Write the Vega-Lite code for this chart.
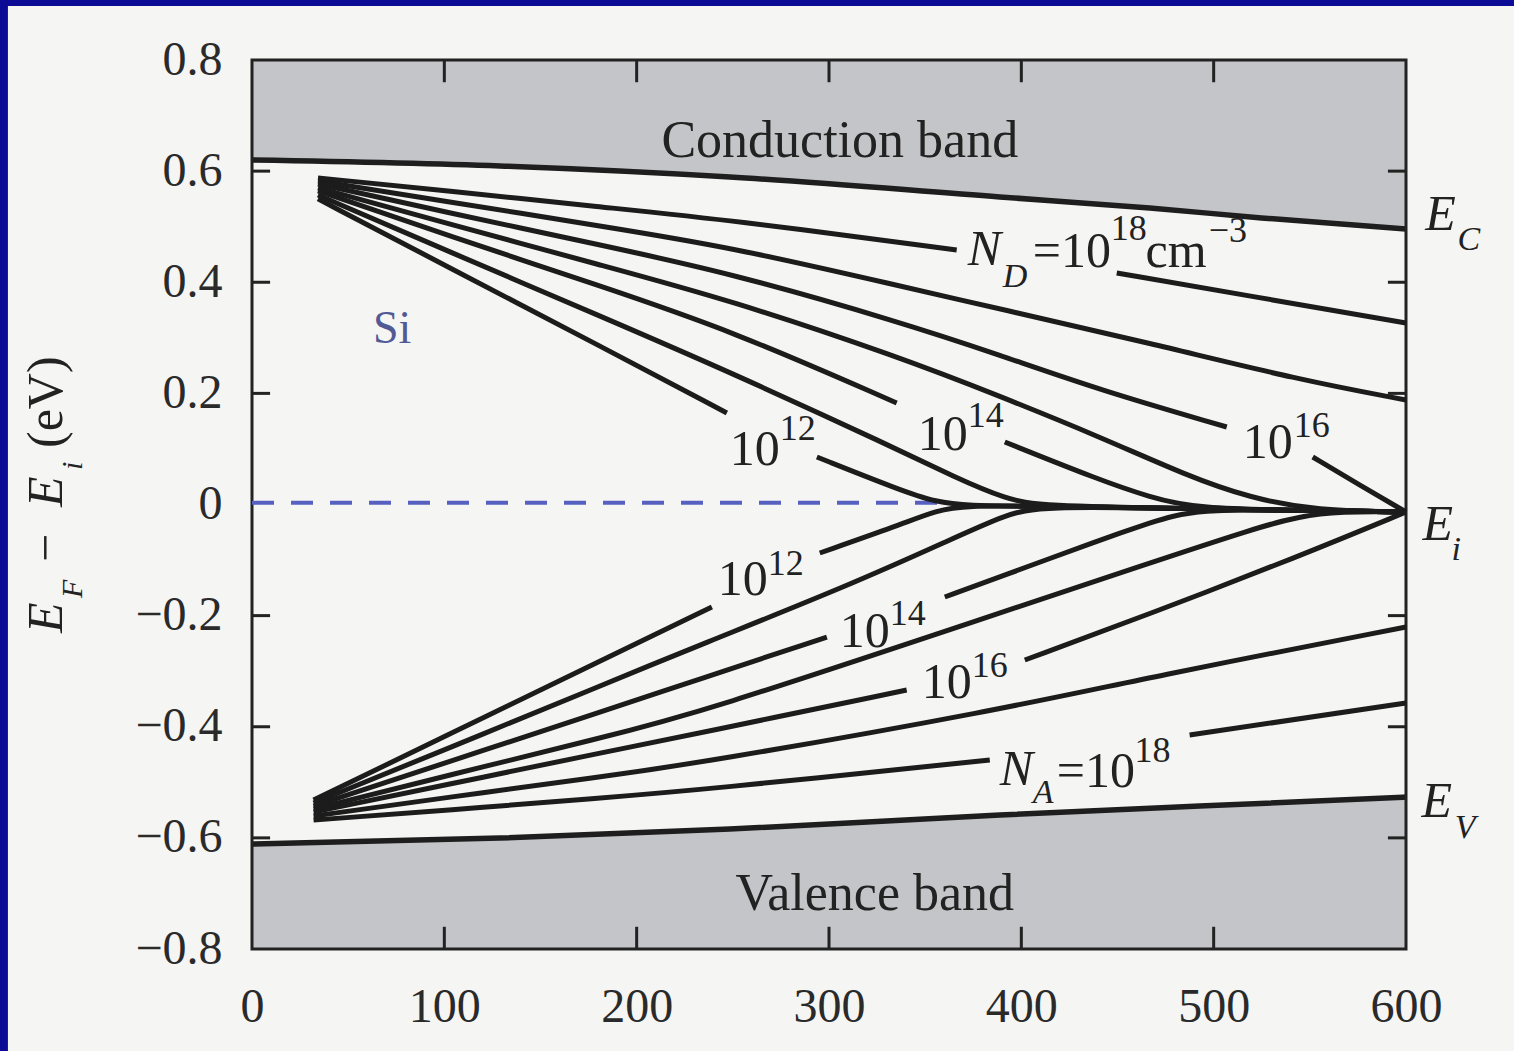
{
"$schema": "https://vega.github.io/schema/vega-lite/v6.json",
"width": 1154, "height": 889,
"autosize": {"type": "none"},
"padding": {"left": 252, "top": 60, "right": 108, "bottom": 102},
"background": "#f5f5f3",
"config": {"view": {"fill": "#f5f5f3", "stroke": null}, "font": "Liberation Serif", "text": {"font": "Liberation Serif", "color": "#222222"}},
"datasets": {
"border": [{"T":-140,"T2":-126.9,"v":1.0,"v2":-1.05},{"T":-140,"T2":700,"v":1.0,"v2":0.8972}],
"ec": [{"T":0,"v":0.6201},{"T":128.9,"v":0.6093},{"T":248.4,"v":0.5895},{"T":388.8,"v":0.5535},{"T":466.7,"v":0.5337},{"T":524.9,"v":0.5157},{"T":600,"v":0.4959}],
"ev": [{"T":0,"v":-0.6111},{"T":128.9,"v":-0.6003},{"T":248.4,"v":-0.5841},{"T":388.8,"v":-0.5589},{"T":492.7,"v":-0.5427},{"T":600,"v":-0.5265}],
"frame": [{"T":0,"T2":600,"v":-0.8,"v2":0.8}],
"yt": [{"v":0.6},{"v":0.4},{"v":0.2},{"v":-0.2},{"v":-0.4},{"v":-0.6}],
"xt": [{"T":100},{"T":200},{"T":300},{"T":400},{"T":500}],
"dash": [{"T":0,"v":0.003},{"T":360,"v":0.003}],
"curves": [
{"c":"n12a","T":34.3,"v":0.550},{"c":"n12a","T":102.9,"v":0.4257},{"c":"n12a","T":180.9,"v":0.2853},{"c":"n12a","T":246.9,"v":0.1647},
{"c":"n12b","T":293.7,"v":0.0855},{"c":"n12b","T":336.8,"v":0.0261},{"c":"n12b","T":356,"v":0.004},{"c":"n12b","T":372,"v":-0.002},{"c":"n12b","T":405.9,"v":-0.003},{"c":"n12b","T":486,"v":-0.0074},{"c":"n12b","T":553.5,"v":-0.011},{"c":"n12b","T":600,"v":-0.0135},
{"c":"n13","T":34.3,"v":0.5571},{"c":"n13","T":102.9,"v":0.4545},{"c":"n13","T":180.9,"v":0.3393},{"c":"n13","T":248.4,"v":0.2385},{"c":"n13","T":333.2,"v":0.1035},{"c":"n13","T":366,"v":0.048},{"c":"n13","T":392,"v":0.01},{"c":"n13","T":410,"v":-0.003},{"c":"n13","T":486,"v":-0.0074},{"c":"n13","T":553.5,"v":-0.011},{"c":"n13","T":600,"v":-0.0135},
{"c":"n14a","T":34.3,"v":0.5643},{"c":"n14a","T":102.9,"v":0.4833},{"c":"n14a","T":180.9,"v":0.3933},{"c":"n14a","T":248.4,"v":0.3141},{"c":"n14a","T":335.2,"v":0.1827},
{"c":"n14b","T":391.4,"v":0.1125},{"c":"n14b","T":440.7,"v":0.0441},{"c":"n14b","T":466.7,"v":0.0135},{"c":"n14b","T":490,"v":-0.0074},{"c":"n14b","T":553.5,"v":-0.011},{"c":"n14b","T":600,"v":-0.0135},
{"c":"n15","T":34.3,"v":0.5697},{"c":"n15","T":102.9,"v":0.5049},{"c":"n15","T":180.9,"v":0.4311},{"c":"n15","T":248.4,"v":0.3681},{"c":"n15","T":336.8,"v":0.265},{"c":"n15","T":388.8,"v":0.195},{"c":"n15","T":440.7,"v":0.122},{"c":"n15","T":486,"v":0.052},{"c":"n15","T":518.7,"v":0.012},{"c":"n15","T":553.5,"v":-0.011},{"c":"n15","T":600,"v":-0.0135},
{"c":"n16a","T":34.3,"v":0.5769},{"c":"n16a","T":102.9,"v":0.5247},{"c":"n16a","T":180.9,"v":0.4671},{"c":"n16a","T":248.4,"v":0.4167},{"c":"n16a","T":336.8,"v":0.3285},{"c":"n16a","T":388.8,"v":0.2691},{"c":"n16a","T":440.7,"v":0.2061},{"c":"n16a","T":506.8,"v":0.1395},
{"c":"n16b","T":551.5,"v":0.0855},{"c":"n16b","T":575.9,"v":0.0351},{"c":"n16b","T":600,"v":-0.0135},
{"c":"n17","T":34.3,"v":0.5823},{"c":"n17","T":102.9,"v":0.5445},{"c":"n17","T":180.9,"v":0.5013},{"c":"n17","T":248.4,"v":0.4635},{"c":"n17","T":336.8,"v":0.3933},{"c":"n17","T":388.8,"v":0.3519},{"c":"n17","T":466.7,"v":0.2907},{"c":"n17","T":544.7,"v":0.2241},{"c":"n17","T":600,"v":0.1881},
{"c":"n18a","T":34.3,"v":0.5877},{"c":"n18a","T":102.9,"v":0.5643},{"c":"n18a","T":180.9,"v":0.5355},{"c":"n18a","T":248.4,"v":0.5121},{"c":"n18a","T":366.4,"v":0.4581},
{"c":"n18b","T":449.6,"v":0.4167},{"c":"n18b","T":518.7,"v":0.3753},{"c":"n18b","T":600,"v":0.3267},
{"c":"p12a","T":32,"v":-0.5319},{"c":"p12a","T":102.9,"v":-0.4131},{"c":"p12a","T":180.9,"v":-0.2817},{"c":"p12a","T":239.1,"v":-0.1845},
{"c":"p12b","T":295.2,"v":-0.0873},{"c":"p12b","T":336.8,"v":-0.0369},{"c":"p12b","T":356,"v":-0.01},{"c":"p12b","T":372,"v":-0.002},{"c":"p12b","T":405.9,"v":-0.003},{"c":"p12b","T":486,"v":-0.0074},{"c":"p12b","T":553.5,"v":-0.011},{"c":"p12b","T":600,"v":-0.0135},
{"c":"p13","T":32,"v":-0.5373},{"c":"p13","T":102.9,"v":-0.4375},{"c":"p13","T":180.9,"v":-0.3267},{"c":"p13","T":232.8,"v":-0.2529},{"c":"p13","T":310.8,"v":-0.1449},{"c":"p13","T":362.8,"v":-0.0639},{"c":"p13","T":392,"v":-0.018},{"c":"p13","T":410,"v":-0.003},{"c":"p13","T":486,"v":-0.0074},{"c":"p13","T":553.5,"v":-0.011},{"c":"p13","T":600,"v":-0.0135},
{"c":"p14a","T":32,"v":-0.5427},{"c":"p14a","T":102.9,"v":-0.4624},{"c":"p14a","T":180.9,"v":-0.3735},{"c":"p14a","T":232.8,"v":-0.3141},{"c":"p14a","T":298.9,"v":-0.2385},
{"c":"p14b","T":360.2,"v":-0.1665},{"c":"p14b","T":388.8,"v":-0.1305},{"c":"p14b","T":440.7,"v":-0.0639},{"c":"p14b","T":466.7,"v":-0.0333},{"c":"p14b","T":490,"v":-0.0074},{"c":"p14b","T":553.5,"v":-0.011},{"c":"p14b","T":600,"v":-0.0135},
{"c":"p15","T":32,"v":-0.5481},{"c":"p15","T":102.9,"v":-0.4869},{"c":"p15","T":180.9,"v":-0.4203},{"c":"p15","T":232.8,"v":-0.3753},{"c":"p15","T":388.8,"v":-0.1953},{"c":"p15","T":466.7,"v":-0.1053},{"c":"p15","T":518.7,"v":-0.0459},{"c":"p15","T":553.5,"v":-0.011},{"c":"p15","T":600,"v":-0.0135},
{"c":"p16a","T":32,"v":-0.5535},{"c":"p16a","T":102.9,"v":-0.5031},{"c":"p16a","T":180.9,"v":-0.4473},{"c":"p16a","T":232.8,"v":-0.4113},{"c":"p16a","T":340.4,"v":-0.3339},
{"c":"p16b","T":401.8,"v":-0.2799},{"c":"p16b","T":466.7,"v":-0.1971},{"c":"p16b","T":544.7,"v":-0.0927},{"c":"p16b","T":600,"v":-0.0135},
{"c":"p17","T":32,"v":-0.5607},{"c":"p17","T":102.9,"v":-0.5265},{"c":"p17","T":180.9,"v":-0.4905},{"c":"p17","T":232.8,"v":-0.4653},{"c":"p17","T":388.8,"v":-0.3699},{"c":"p17","T":466.7,"v":-0.3105},{"c":"p17","T":600,"v":-0.2205},
{"c":"p18a","T":32,"v":-0.5679},{"c":"p18a","T":102.9,"v":-0.5499},{"c":"p18a","T":180.9,"v":-0.5283},{"c":"p18a","T":232.8,"v":-0.5139},{"c":"p18a","T":383.6,"v":-0.4599},
{"c":"p18b","T":487.5,"v":-0.4149},{"c":"p18b","T":600,"v":-0.3573}
],
"t_plain": [{"s":"10","T":248.4,"v":0.0711},{"s":"10","T":346.2,"v":0.0981},{"s":"10","T":515.1,"v":0.0837},{"s":"=10","T":405.9,"v":0.4275},{"s":"cm","T":464.6,"v":0.4275},{"s":"10","T":242.2,"v":-0.1629},{"s":"10","T":305.6,"v":-0.2565},{"s":"10","T":348.2,"v":-0.3483},{"s":"=10","T":418.4,"v":-0.5085}],
"t_sup": [{"s":"12","T":274.4,"v":0.1161},{"s":"14","T":372.1,"v":0.1395},{"s":"16","T":541.6,"v":0.1215},{"s":"18","T":446.5,"v":0.4761},{"s":"−3","T":497.4,"v":0.4725},{"s":"12","T":268.2,"v":-0.1269},{"s":"14","T":331.6,"v":-0.2169},{"s":"16","T":374.2,"v":-0.3105},{"s":"18","T":458.9,"v":-0.4635}],
"t_ital": [{"s":"N","T":372.1,"v":0.4311},{"s":"N","T":388.8,"v":-0.5049},{"s":"E","T":610.0,"v":0.4941},{"s":"E","T":608.6,"v":-0.0639},{"s":"E","T":608.1,"v":-0.5625}],
"t_sub": [{"s":"D","T":390.3,"v":0.3915},{"s":"A","T":405.9,"v":-0.5373},{"s":"C","T":626.8,"v":0.4581},{"s":"i","T":623.7,"v":-0.0999},{"s":"V","T":625.3,"v":-0.6003}],
"t_band": [{"s":"Conduction band","T":305.6,"v":0.6255},{"s":"Valence band","T":323.8,"v":-0.7299}],
"t_si": [{"s":"Si","T":62.9,"v":0.2907}],
"title_ital": [{"s":"E","T":-98.75,"v":-0.2313},{"s":"E","T":-98.75,"v":-0.0045}],
"title_sub": [{"s":"F","T":-88.36,"v":-0.1683},{"s":"i","T":-88.36,"v":0.0621}],
"title_plain": [{"s":"−","T":-98.75,"v":-0.1035},{"s":"(eV)","T":-98.75,"v":0.1017}]
},
"layer": [
{"data":{"name":"ec"},"mark":{"type":"area","color":"#c4c5c8","interpolate":"monotone"},
 "encoding":{
  "x":{"field":"T","type":"quantitative","title":null,"scale":{"domain":[0,600],"nice":false,"zero":false},
   "axis":{"values":[0,100,200,300,400,500,600],"domain":false,"ticks":false,"grid":false,"labelFontSize":48,"labelFont":"Liberation Serif","labelColor":"#2a2a2a","labelPadding":34,"labelFlush":false,"labelOverlap":false,"title":null}},
  "y":{"field":"v","type":"quantitative","title":null,"scale":{"domain":[-0.8,0.8],"nice":false,"zero":false},
   "axis":{"values":[-0.8,-0.6,-0.4,-0.2,0,0.2,0.4,0.6,0.8],"format":".1~f","domain":false,"ticks":false,"grid":false,"labelFontSize":48,"labelFont":"Liberation Serif","labelColor":"#2a2a2a","labelPadding":30,"labelFlush":false,"labelOverlap":false,"title":null}},
  "y2":{"datum":0.8}}},
{"data":{"name":"ev"},"mark":{"type":"area","color":"#c4c5c8","interpolate":"monotone"},
 "encoding":{"x":{"field":"T","type":"quantitative"},"y":{"field":"v","type":"quantitative"},"y2":{"datum":-0.8}}},
{"data":{"name":"border"},"mark":{"type":"rect","color":"#0b0b96"},
 "encoding":{"x":{"field":"T","type":"quantitative"},"x2":{"field":"T2"},"y":{"field":"v","type":"quantitative"},"y2":{"field":"v2"}}},
{"data":{"name":"ec"},"mark":{"type":"line","color":"#1e1e1e","strokeWidth":5.5,"interpolate":"monotone"},
 "encoding":{"x":{"field":"T","type":"quantitative"},"y":{"field":"v","type":"quantitative"}}},
{"data":{"name":"ev"},"mark":{"type":"line","color":"#1e1e1e","strokeWidth":5.5,"interpolate":"monotone"},
 "encoding":{"x":{"field":"T","type":"quantitative"},"y":{"field":"v","type":"quantitative"}}},
{"data":{"name":"frame"},"mark":{"type":"rect","fillOpacity":0,"stroke":"#222222","strokeWidth":3},
 "encoding":{"x":{"field":"T","type":"quantitative"},"x2":{"field":"T2"},"y":{"field":"v","type":"quantitative"},"y2":{"field":"v2"}}},
{"data":{"name":"yt"},"mark":{"type":"rule","color":"#222222","strokeWidth":3},
 "encoding":{"y":{"field":"v","type":"quantitative"},"x":{"datum":0},"x2":{"datum":9.4}}},
{"data":{"name":"yt"},"mark":{"type":"rule","color":"#222222","strokeWidth":3},
 "encoding":{"y":{"field":"v","type":"quantitative"},"x":{"datum":590.6},"x2":{"datum":600}}},
{"data":{"name":"xt"},"mark":{"type":"rule","color":"#222222","strokeWidth":3},
 "encoding":{"x":{"field":"T","type":"quantitative"},"y":{"datum":0.8},"y2":{"datum":0.76}}},
{"data":{"name":"xt"},"mark":{"type":"rule","color":"#222222","strokeWidth":3},
 "encoding":{"x":{"field":"T","type":"quantitative"},"y":{"datum":-0.8},"y2":{"datum":-0.76}}},
{"data":{"name":"dash"},"mark":{"type":"line","color":"#5560c0","strokeWidth":4,"strokeDash":[22,17]},
 "encoding":{"x":{"field":"T","type":"quantitative"},"y":{"field":"v","type":"quantitative"}}},
{"data":{"name":"curves"},"mark":{"type":"line","color":"#1c1c1c","strokeWidth":5,"interpolate":"basis","strokeCap":"butt"},
 "encoding":{"x":{"field":"T","type":"quantitative"},"y":{"field":"v","type":"quantitative"},"detail":{"field":"c"}}},
{"data":{"name":"t_plain"},"mark":{"type":"text","fontSize":50,"align":"left","baseline":"alphabetic"},
 "encoding":{"x":{"field":"T","type":"quantitative"},"y":{"field":"v","type":"quantitative"},"text":{"field":"s"}}},
{"data":{"name":"t_sup"},"mark":{"type":"text","fontSize":36,"align":"left","baseline":"alphabetic"},
 "encoding":{"x":{"field":"T","type":"quantitative"},"y":{"field":"v","type":"quantitative"},"text":{"field":"s"}}},
{"data":{"name":"t_ital"},"mark":{"type":"text","fontSize":50,"fontStyle":"italic","align":"left","baseline":"alphabetic"},
 "encoding":{"x":{"field":"T","type":"quantitative"},"y":{"field":"v","type":"quantitative"},"text":{"field":"s"}}},
{"data":{"name":"t_sub"},"mark":{"type":"text","fontSize":34,"fontStyle":"italic","align":"left","baseline":"alphabetic"},
 "encoding":{"x":{"field":"T","type":"quantitative"},"y":{"field":"v","type":"quantitative"},"text":{"field":"s"}}},
{"data":{"name":"t_band"},"mark":{"type":"text","fontSize":52,"align":"center","baseline":"alphabetic"},
 "encoding":{"x":{"field":"T","type":"quantitative"},"y":{"field":"v","type":"quantitative"},"text":{"field":"s"}}},
{"data":{"name":"t_si"},"mark":{"type":"text","fontSize":46,"align":"left","baseline":"alphabetic","color":"#525a96"},
 "encoding":{"x":{"field":"T","type":"quantitative"},"y":{"field":"v","type":"quantitative"},"text":{"field":"s"}}},
{"data":{"name":"title_ital"},"mark":{"type":"text","fontSize":50,"fontStyle":"italic","angle":270,"align":"left","baseline":"alphabetic"},
 "encoding":{"x":{"field":"T","type":"quantitative"},"y":{"field":"v","type":"quantitative"},"text":{"field":"s"}}},
{"data":{"name":"title_sub"},"mark":{"type":"text","fontSize":30,"fontStyle":"italic","angle":270,"align":"left","baseline":"alphabetic"},
 "encoding":{"x":{"field":"T","type":"quantitative"},"y":{"field":"v","type":"quantitative"},"text":{"field":"s"}}},
{"data":{"name":"title_plain"},"mark":{"type":"text","fontSize":50,"angle":270,"align":"left","baseline":"alphabetic"},
 "encoding":{"x":{"field":"T","type":"quantitative"},"y":{"field":"v","type":"quantitative"},"text":{"field":"s"}}}
]
}
